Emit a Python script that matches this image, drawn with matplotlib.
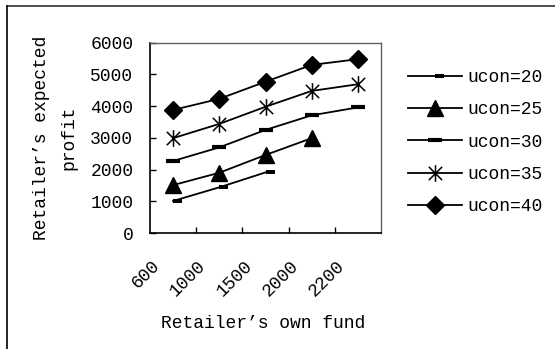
import numpy as np
import matplotlib.pyplot as plt
from matplotlib.path import Path
from matplotlib.lines import Line2D
from matplotlib.transforms import ScaledTranslation

# retailer's own fund (category axis)
funds = ["600", "1000", "1500", "2000", "2200"]

# expected profit for each ucon level
ucon20 = [1010, 1440, 1910]
ucon25 = [1510, 1900, 2460, 2990]
ucon30 = [2270, 2700, 3250, 3710, 3960]
ucon35 = [2990, 3440, 3980, 4480, 4690]
ucon40 = [3880, 4230, 4770, 5300, 5480]
labels = ["ucon=20", "ucon=25", "ucon=30", "ucon=35", "ucon=40"]

FONT = "Liberation Mono"
FS = 13

# short dash that sits to the right of the point
short_dash = Path([(0, -0.17), (1, -0.17), (1, 0.17), (0, 0.17), (0, -0.17)],
                  [Path.MOVETO, Path.LINETO, Path.LINETO, Path.LINETO, Path.CLOSEPOLY])
# X with a vertical bar through it
star = Path([(-1, -1), (1, 1), (-1, 1), (1, -1), (0, -1.25), (0, 1.25)],
            [Path.MOVETO, Path.LINETO, Path.MOVETO, Path.LINETO, Path.MOVETO, Path.LINETO])

fig = plt.figure(figsize=(5.55, 3.49), dpi=100)
ax = fig.add_axes([150 / 555, 1 - 233 / 349, 231 / 555, 190.3 / 349])

styles = [
    dict(marker=short_dash, ms=13, mew=0),
    dict(marker="^", ms=11.5),
    dict(marker="_", ms=9.5, mew=3),
    dict(marker=star, ms=12, mew=1.1),
    dict(marker="D", ms=9),
]
series = [ucon20, ucon25, ucon30, ucon35, ucon40]
handles = []
for vals, st, lab in zip(series, styles, labels):
    x = np.arange(len(vals))
    h, = ax.plot(x, vals, color="black", lw=1.3, mfc="black", mec="black",
                 label=lab, **st)
    handles.append(h)

ax.set_xlim(-0.5, 4.5)
ax.set_ylim(0, 6000)
ax.set_yticks(np.arange(0, 6001, 1000))
ax.set_xticks(np.arange(0.5, 4, 1))
ax.set_xticklabels([])
ax.set_xticks(np.arange(len(funds)), minor=True)
ax.set_xticklabels(funds, minor=True, rotation=45, ha="right", va="center",
                   rotation_mode="anchor", fontfamily=FONT, fontsize=FS)
ax.tick_params(axis="x", which="minor", length=0, pad=0)
ax.tick_params(axis="both", which="major", direction="in", length=4.5,
               width=1, color="black")
ax.tick_params(axis="y", pad=12)
for t in ax.get_yticklabels():
    t.set_fontfamily(FONT)
    t.set_fontsize(FS)
shift = ScaledTranslation(-0.16, -0.30, fig.dpi_scale_trans)
for t in ax.get_xticklabels(minor=True):
    t.set_transform(t.get_transform() + shift)

for s in ["left", "bottom"]:
    ax.spines[s].set_linewidth(1.2)
    ax.spines[s].set_color("black")
for s in ["top", "right"]:
    ax.spines[s].set_linewidth(1.0)
    ax.spines[s].set_color("#606060")

ax.set_xlabel("Retailer’s own fund", fontfamily=FONT, fontsize=FS)
ax.xaxis.set_label_coords(0.489, -0.431)
ax.set_ylabel("Retailer’s expected\nprofit", fontfamily=FONT, fontsize=FS,
              linespacing=1.8)
ax.yaxis.set_label_coords(-0.316, 0.5)

fig.legend(handles=handles, loc="upper left", bbox_to_anchor=(408 / 555, 1 - 69 / 349),
           frameon=False, borderpad=0, borderaxespad=0, handlelength=3.0,
           handletextpad=0.3, labelspacing=0.85,
           prop={"family": FONT, "size": FS})

# frame lines along the top and left of the figure
fig.add_artist(Line2D([7 / 555, 1], [1 - 6 / 349, 1 - 6 / 349], color="#303030", lw=1.2))
fig.add_artist(Line2D([7 / 555, 7 / 555], [0, 1 - 6 / 349], color="black", lw=1.2))

fig.savefig("out.png", dpi=100)
